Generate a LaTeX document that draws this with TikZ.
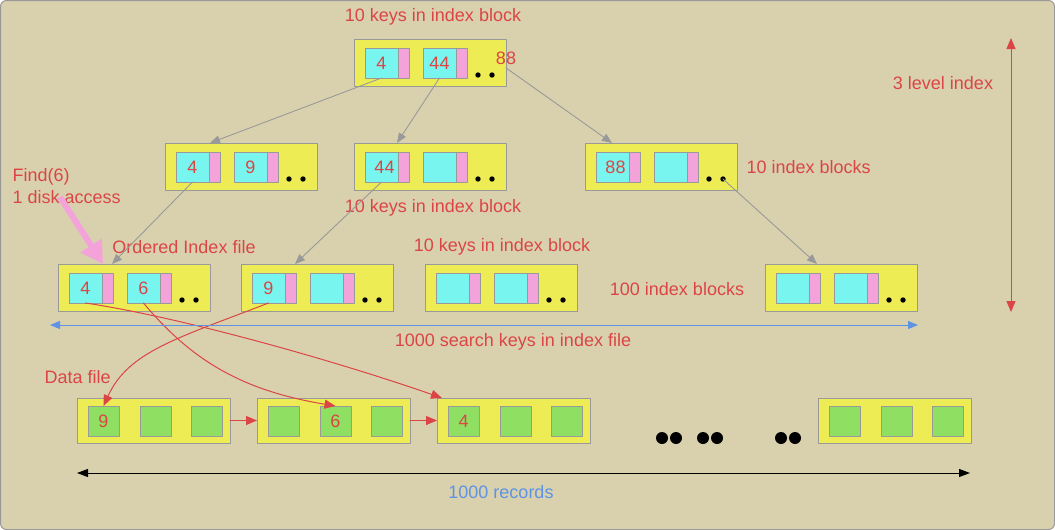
\documentclass[tikz,border=0pt]{standalone}
\usepackage{fontspec}
\setmainfont{Liberation Sans}
\usetikzlibrary{arrows.meta}
\usetikzlibrary{positioning}
\definecolor{sand}{RGB}{217,209,174}
\definecolor{lemon}{RGB}{238,236,85}
\definecolor{aqua}{RGB}{120,245,238}
\definecolor{rosy}{RGB}{244,162,218}
\definecolor{leaf}{RGB}{143,223,98}
\definecolor{brick}{RGB}{219,69,69}
\definecolor{skyblue}{RGB}{94,147,228}
\definecolor{edgegray}{RGB}{153,153,153}
\tikzset{
  blockbox/.style={draw=edgegray,line width=1pt,fill=lemon,inner sep=0pt,outer sep=0pt,anchor=north west},
  keycell/.style={draw=edgegray,line width=1pt,fill=aqua,inner sep=0pt,outer sep=0pt,anchor=north west,minimum width=33pt,minimum height=30pt,text=brick},
  ptrcell/.style={draw=edgegray,line width=1pt,fill=rosy,inner sep=0pt,outer sep=0pt,anchor=north west,minimum width=11pt,minimum height=30pt},
  reccell/.style={draw=edgegray,line width=1pt,fill=leaf,inner sep=0pt,outer sep=0pt,anchor=north west,minimum width=31pt,minimum height=30pt,text=brick},
  lbl/.style={text=brick},
  ptr/.style={draw=edgegray,line width=0.9pt,-{Triangle[length=10pt,width=8pt]}},
  link/.style={draw=brick,line width=1pt,-{Triangle[length=11pt,width=9pt]}},
}
\newcommand\IndexBlock[5]{%
  \node[blockbox,minimum width=152pt,minimum height=47pt] (#1) at (#2,#3) {};
  \node[keycell] (#1a) at ({#2+11},{#3+9}) {#4};
  \node[ptrcell] (#1p) at (#1a.north east) {};
  \node[keycell] (#1b) at ({#2+69},{#3+9}) {#5};
  \node[ptrcell] (#1q) at (#1b.north east) {};
  \coordinate (#1d) at ({#2+138},{#3+36});
  \fill ({#2+124},{#3+36}) circle (2.7pt) (#1d) circle (2.7pt);
}
\newcommand\DataBlock[6]{%
  \node[blockbox,minimum width=153pt,minimum height=45pt] (#1) at (#2,#3) {};
  \node[reccell] (#1a) at ({#2+11},{#3+8}) {#4};
  \node[reccell] (#1b) at ({#2+63},{#3+8}) {#5};
  \node[reccell] (#1c) at ({#2+114},{#3+8}) {#6};
}

\begin{document}
\begin{tikzpicture}[line cap=round,line join=round,x=1pt,y=-1pt,font=\fontsize{18}{21}\selectfont]
\useasboundingbox (0,0) rectangle (1055,530);
\draw[edgegray,line width=1pt,fill=sand,rounded corners=6pt] (0.5,0.5) rectangle (1054.5,529.5);
\IndexBlock{top}{354}{39}{4}{44}
\IndexBlock{A}{165}{143}{4}{9}
\IndexBlock{B}{354}{143}{\hspace*{6pt}44}{}
\IndexBlock{C}{585}{143}{\hspace*{6pt}88}{}
\IndexBlock{D}{58}{264}{4}{6}
\IndexBlock{E}{241}{264}{9}{}
\IndexBlock{F}{425}{264}{}{}
\IndexBlock{G}{765}{264}{}{}
\DataBlock{H}{77}{398}{9}{}{}
\DataBlock{I}{257}{398}{}{6}{}
\DataBlock{J}{437}{398}{4}{}{}
\DataBlock{K}{818}{398}{}{}{}
\node[lbl] (k88) at (506,58) {88};
\node[lbl] (ttop) at (433,17) {10 keys in index block};
\node[lbl] (tmid) at (433,208) {10 keys in index block};
\node[lbl] (tlow) at (502,247) {10 keys in index block};
\node[lbl,anchor=west] (tten) at (743,167) {10 index blocks};
\node[lbl] (thund) at (677,289) {100 index blocks};
\node[lbl] (tord) at (184,247) {Ordered Index file};
\node[lbl,anchor=west] (tfind) at (9,177) {Find(6)};
\node[lbl,anchor=west] (tdisk) at (9,197) {1 disk access};
\node[lbl] (tlevel) at (943,83) {3 level index};
\node[lbl] (tkeys) at (513,342) {1000 search keys in index file};
\node[lbl,anchor=west] (tdata) at (41,377) {Data file};
\node[text=skyblue] (trec) at (501,492) {1000 records};
\foreach \x in {662,676,703,717,781,795} \fill (\x,438) circle (6pt);
\coordinate (levtop) at (1011,38);
\coordinate (levbot) at (1011,312);
\coordinate (keysL) at (50,325);
\coordinate (keysR) at (918,325);
\coordinate (recL) at (77,473);
\coordinate (recR) at (970,473);
\coordinate (findtail) at (60,197);
\draw[ptr] (topa.south) -- ([xshift=45pt]A.north west);
\draw[ptr] (topb.south) -- ([xshift=43pt]B.north west);
\draw[ptr] (k88.south) -- ([xshift=27pt]C.north west);
\draw[ptr] (Aa.south) -- ([xshift=54pt]D.north west);
\draw[ptr] (Ba.south) -- ([xshift=54pt]E.north west);
\draw[ptr] (Cd) -- ([xshift=52pt]G.north west);
\draw[line width=6pt,rosy,line cap=butt,-{Triangle[length=22pt,width=24pt]}] (findtail) -- ([xshift=45pt]D.north west);
\draw[link] (Da.south) .. controls +(100,15) and +(-100,-35) .. ([xshift=5pt]J.north west);
\draw[link] (Db.south) .. controls +(50,60) and +(-90,-15) .. (Ib.north);
\draw[link] (Ea.south) .. controls +(-90,35) and +(25,-55) .. (Ha.north);
\draw[link] (H.east) -- (I.west);
\draw[link] (I.east) -- (J.west);
\draw[skyblue,line width=1pt,{Triangle[length=10pt,width=8pt]}-{Triangle[length=10pt,width=8pt]}] (keysL) -- (keysR);
\draw[black,line width=1pt,{Triangle[length=11pt,width=8pt]}-{Triangle[length=11pt,width=8pt]}] (recL) -- (recR);
\draw[brick,line width=1pt,{Triangle[length=11pt,width=9pt]}-{Triangle[length=11pt,width=9pt]}] (levtop) -- (levbot);
\end{tikzpicture}
\end{document}
